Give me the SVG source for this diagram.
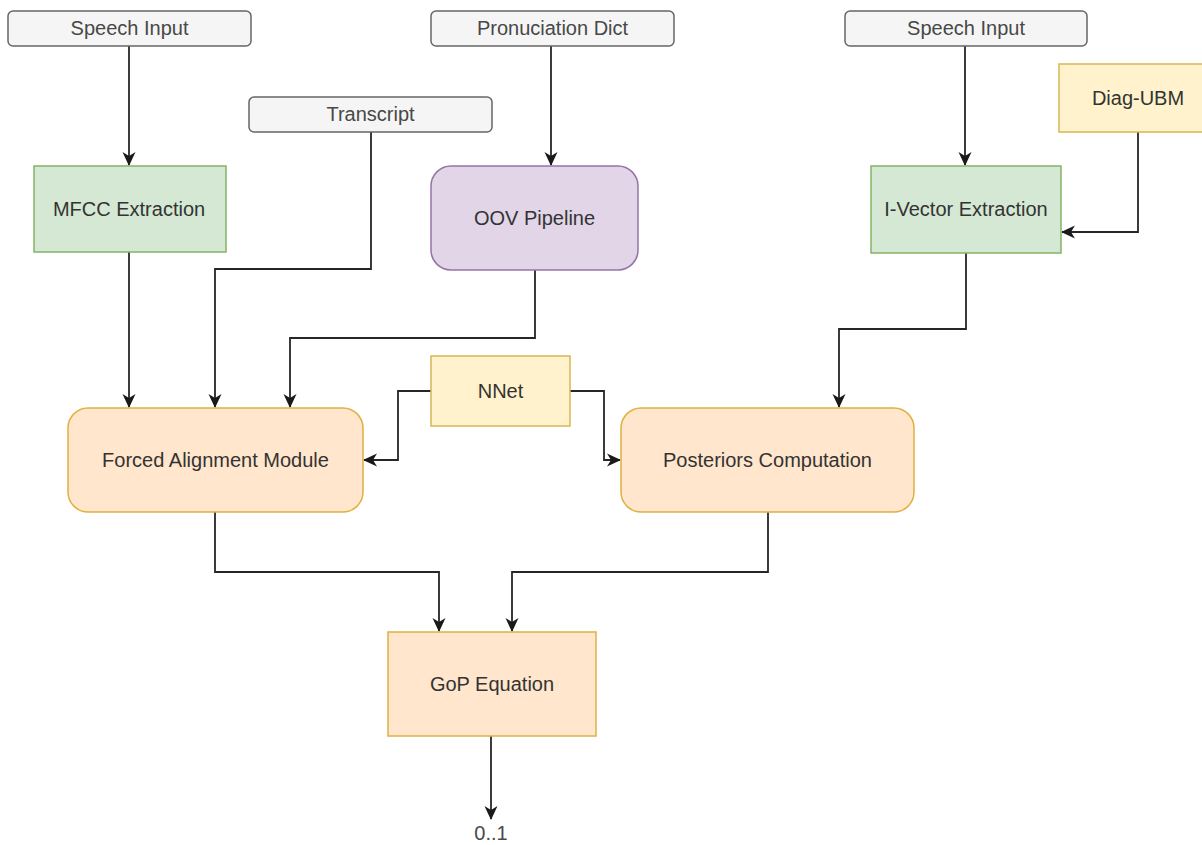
<svg xmlns="http://www.w3.org/2000/svg" width="1202" height="845" viewBox="0 0 1202 845">
  <defs>
    <marker id="arrow" markerUnits="userSpaceOnUse" markerWidth="15" markerHeight="14" refX="13" refY="7" orient="auto">
      <path d="M0,0.5 L14,7 L0,13.5 L4,7 Z" fill="#1a1a1a"/>
    </marker>
    <style>
      text { font-family: "Liberation Sans", Arial, Helvetica, sans-serif; font-size: 20px; text-anchor: middle; fill: #333333; }
      .input { fill: #f5f5f5; stroke: #666666; stroke-width: 1.5; }
      .input-label { fill: #484848; }
      .green { fill: #d5e8d4; stroke: #82b366; stroke-width: 1.5; }
      .purple { fill: #e1d5e7; stroke: #9673a6; stroke-width: 1.5; }
      .yellow { fill: #fff2cc; stroke: #d6b656; stroke-width: 1.5; }
      .orange { fill: #ffe6cc; stroke: #e0b040; stroke-width: 1.5; }
      .edge { fill: none; stroke: #262626; stroke-width: 1.8; marker-end: url(#arrow); }
    </style>
  </defs>
  <rect width="1202" height="845" fill="#ffffff"/>

  <!-- connectors -->
  <g id="connectors">
    <path class="edge" d="M129,46 V165"/>
    <path class="edge" d="M129,252 V407"/>
    <path class="edge" d="M371,132 V269 H215 V407"/>
    <path class="edge" d="M551,46 V165"/>
    <path class="edge" d="M535,270 V338 H290 V407"/>
    <path class="edge" d="M431,391 H398 V460 H364"/>
    <path class="edge" d="M570,391 H604 V460 H620"/>
    <path class="edge" d="M965,46 V165"/>
    <path class="edge" d="M1138,132 V232 H1062"/>
    <path class="edge" d="M966,253 V329 H839 V407"/>
    <path class="edge" d="M215,512 V572 H439 V631"/>
    <path class="edge" d="M768,512 V572 H512 V631"/>
    <path class="edge" d="M491,736 V819"/>
  </g>

  <!-- input nodes -->
  <g id="speech-input-1">
    <rect class="input" x="8" y="11" width="243" height="35" rx="5"/>
    <text class="input-label" x="129.5" y="35">Speech Input</text>
  </g>
  <g id="transcript">
    <rect class="input" x="249" y="97" width="243" height="35" rx="5"/>
    <text class="input-label" x="370.5" y="121">Transcript</text>
  </g>
  <g id="pronunciation-dict">
    <rect class="input" x="431" y="11" width="243" height="35" rx="5"/>
    <text class="input-label" x="552.5" y="35">Pronuciation Dict</text>
  </g>
  <g id="speech-input-2">
    <rect class="input" x="845" y="11" width="242" height="35" rx="5"/>
    <text class="input-label" x="966" y="35">Speech Input</text>
  </g>

  <!-- processing nodes -->
  <g id="diag-ubm">
    <rect class="yellow" x="1059" y="64" width="160" height="68"/>
    <text x="1138" y="105">Diag-UBM</text>
  </g>
  <g id="mfcc-extraction">
    <rect class="green" x="34" y="166" width="192" height="86"/>
    <text x="129" y="216">MFCC Extraction</text>
  </g>
  <g id="oov-pipeline">
    <rect class="purple" x="431" y="166" width="207" height="104" rx="20"/>
    <text x="534.5" y="225">OOV Pipeline</text>
  </g>
  <g id="ivector-extraction">
    <rect class="green" x="871" y="166" width="190" height="87"/>
    <text x="966" y="216">I-Vector Extraction</text>
  </g>
  <g id="nnet">
    <rect class="yellow" x="431" y="356" width="139" height="70"/>
    <text x="500.5" y="398">NNet</text>
  </g>
  <g id="forced-alignment">
    <rect class="orange" x="68" y="408" width="295" height="104" rx="20"/>
    <text x="215.5" y="467">Forced Alignment Module</text>
  </g>
  <g id="posteriors-computation">
    <rect class="orange" x="621" y="408" width="293" height="104" rx="20"/>
    <text x="767.5" y="467">Posteriors Computation</text>
  </g>
  <g id="gop-equation">
    <rect class="orange" x="388" y="632" width="208" height="104"/>
    <text x="492" y="691">GoP Equation</text>
  </g>
  <g id="output-range">
    <text class="input-label" x="491" y="840">0..1</text>
  </g>
</svg>
